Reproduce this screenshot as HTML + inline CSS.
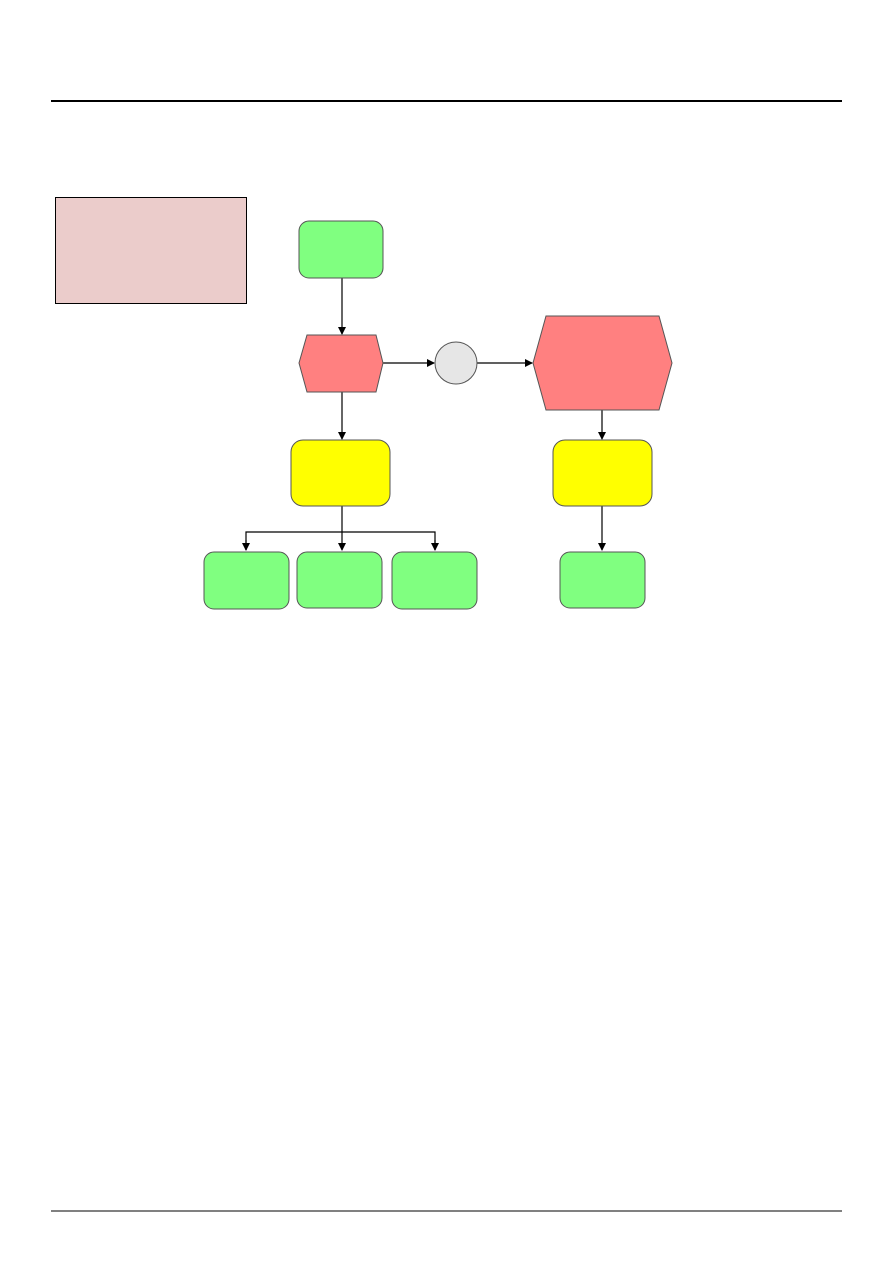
<!DOCTYPE html>
<html><head><meta charset="utf-8"><style>html,body{margin:0;padding:0;background:#fff}svg{display:block}</style></head><body>
<svg width="893" height="1263" viewBox="0 0 893 1263" xmlns="http://www.w3.org/2000/svg">
<defs><marker id="a" markerWidth="8" markerHeight="8" refX="7" refY="4" orient="auto" markerUnits="userSpaceOnUse"><path d="M0,0 L8,4 L0,8 Z" fill="#000"/></marker></defs>
<line x1="51" y1="101" x2="842" y2="101" stroke="#000" stroke-width="2"/>
<line x1="51" y1="1211" x2="842" y2="1211" stroke="#000" stroke-width="1"/>
<rect x="55.5" y="197.5" width="191" height="106" fill="#ebcccb" stroke="#000" stroke-width="1"/>
<g stroke="#000" stroke-width="1.2" fill="none">
<line x1="342" y1="278" x2="342" y2="334" marker-end="url(#a)"/>
<line x1="383" y1="363" x2="434" y2="363" marker-end="url(#a)"/>
<line x1="477" y1="363" x2="532" y2="363" marker-end="url(#a)"/>
<line x1="342" y1="392" x2="342" y2="439" marker-end="url(#a)"/>
<line x1="602" y1="410" x2="602" y2="439" marker-end="url(#a)"/>
<line x1="342" y1="506" x2="342" y2="550" marker-end="url(#a)"/>
<polyline points="246,550 246,532 435,532 435,550"/>
<line x1="246" y1="540" x2="246" y2="550" marker-end="url(#a)"/>
<line x1="435" y1="540" x2="435" y2="550" marker-end="url(#a)"/>
<line x1="602" y1="506" x2="602" y2="550" marker-end="url(#a)"/>
</g>
<g stroke="#555" stroke-width="1">
<rect x="299" y="221" width="84" height="57" rx="10" fill="#80ff80"/>
<polygon points="299,363 307,335 376,335 383,363 376,392 307,392" fill="#ff8080"/>
<circle cx="456" cy="363" r="21" fill="#e6e6e6"/>
<polygon points="533,363 546,316 659,316 672,363 659,410 546,410" fill="#ff8080"/>
<rect x="291" y="440" width="99" height="66" rx="12" fill="#ffff00"/>
<rect x="553" y="440" width="99" height="66" rx="12" fill="#ffff00"/>
<rect x="204" y="552" width="85" height="57" rx="10" fill="#80ff80"/>
<rect x="297" y="552" width="85" height="56" rx="10" fill="#80ff80"/>
<rect x="392" y="552" width="85" height="57" rx="10" fill="#80ff80"/>
<rect x="560" y="552" width="85" height="56" rx="10" fill="#80ff80"/>
</g>
</svg>
</body></html>
